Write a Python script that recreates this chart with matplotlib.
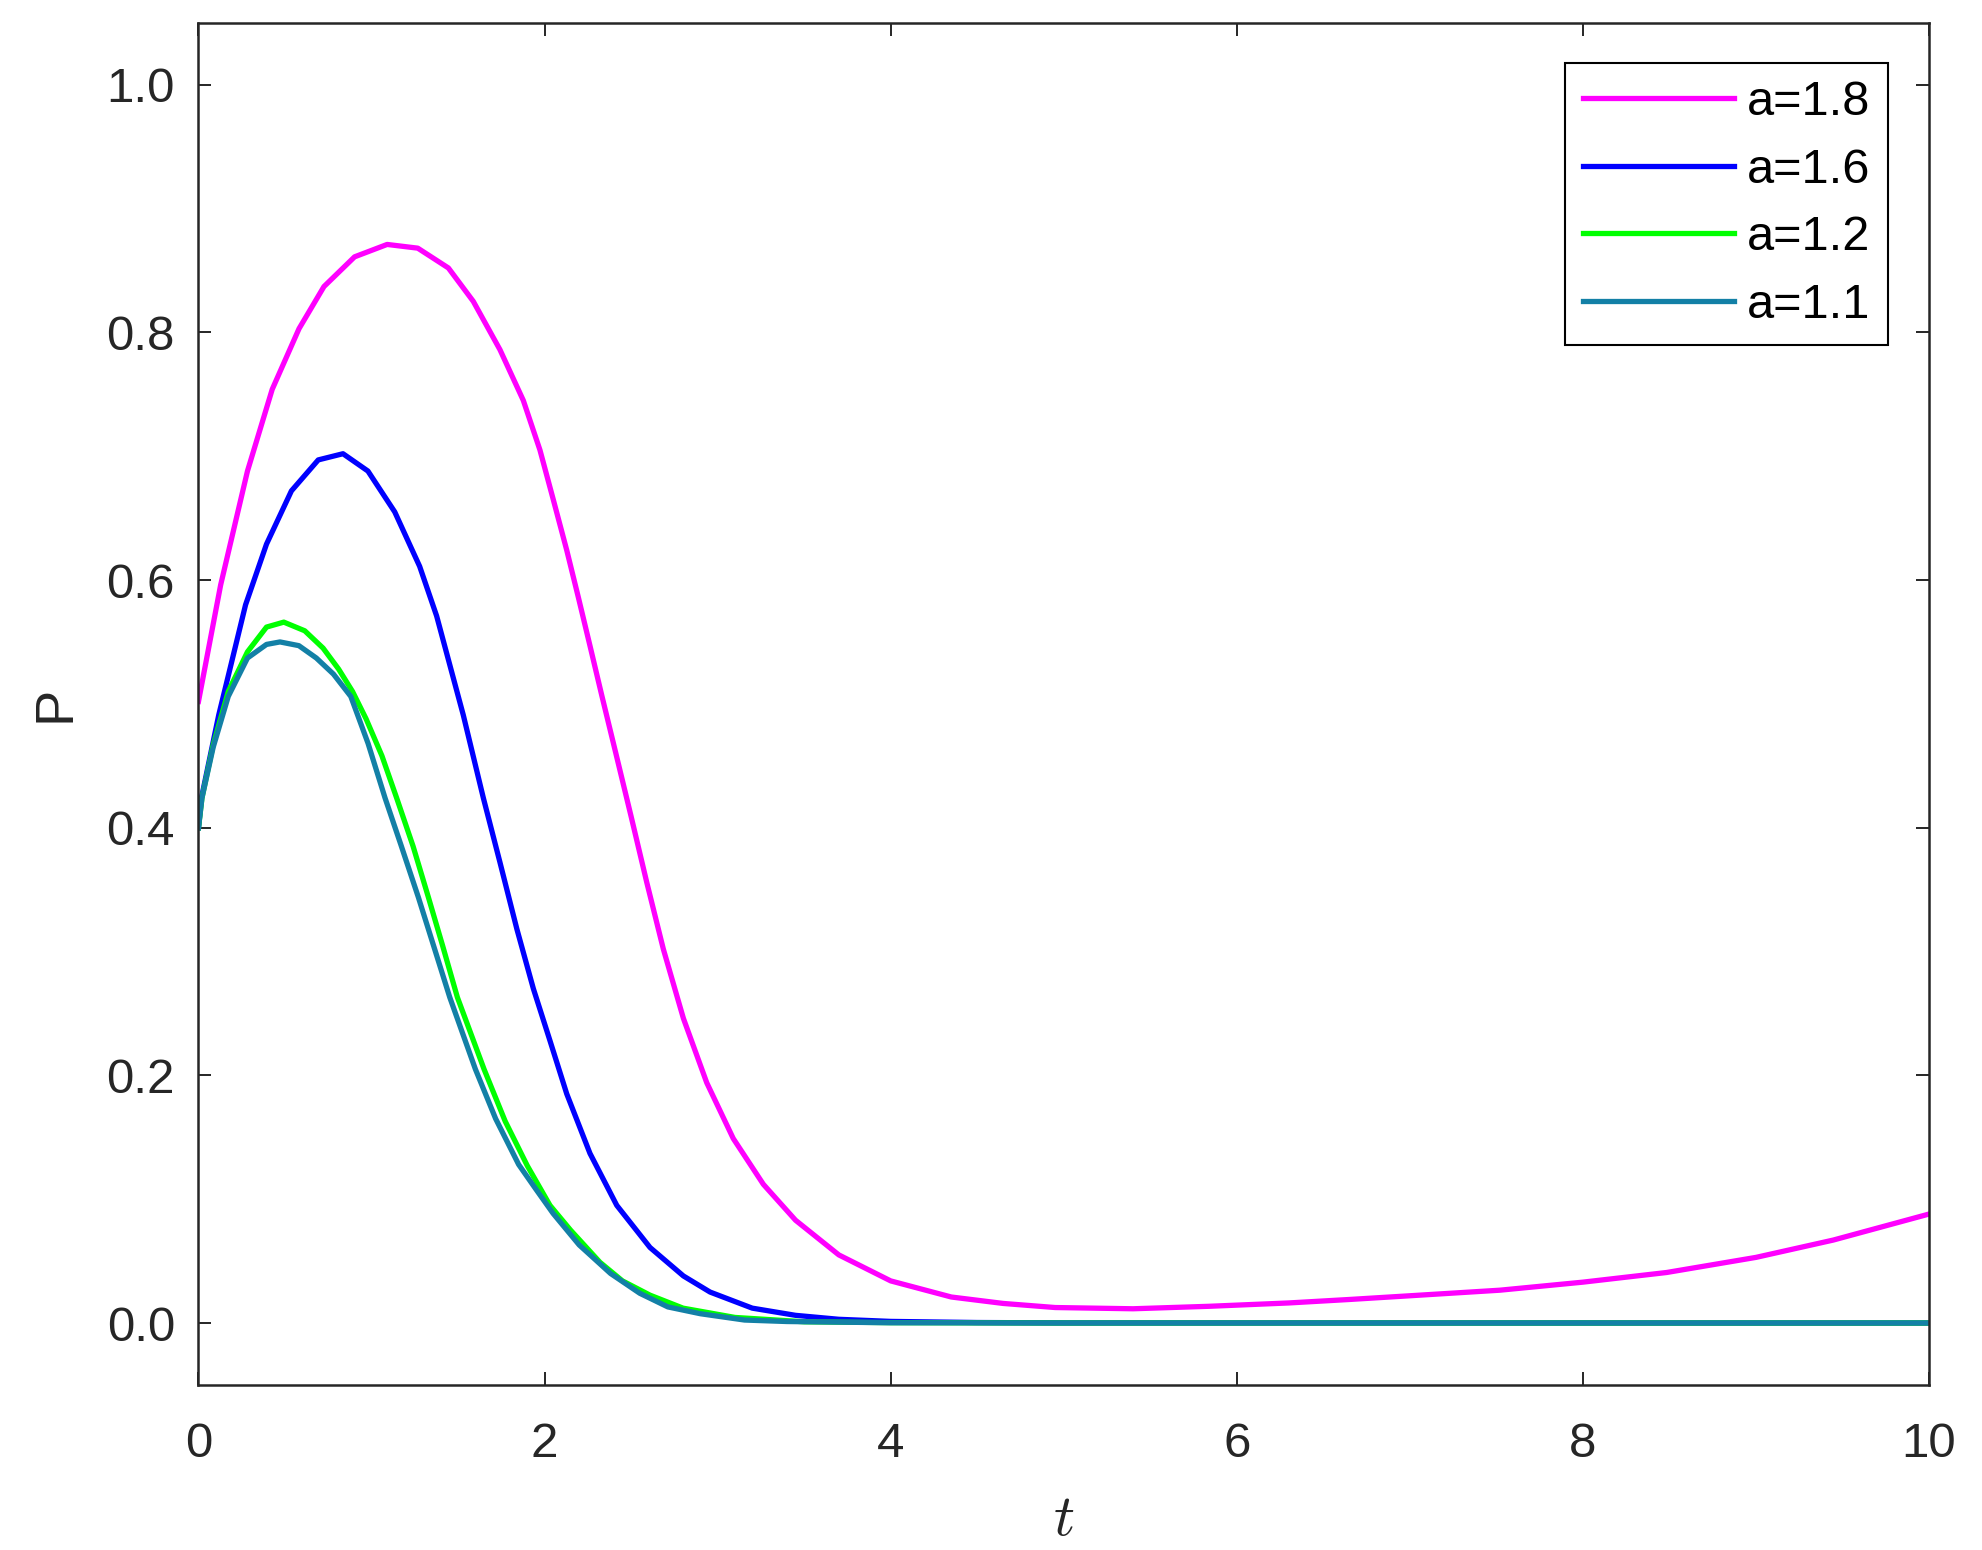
import matplotlib
matplotlib.use('Agg')
import matplotlib.pyplot as plt

# values
t_18 = [0, 0.128, 0.283, 0.426, 0.581, 0.725, 0.902, 1.09, 1.267, 1.444, 1.588,
        1.742, 1.877, 1.973, 2.05, 2.128, 2.195, 2.262, 2.33, 2.41, 2.50, 2.59,
        2.686, 2.802, 2.937, 3.09, 3.264, 3.45, 3.7, 4.0, 4.35, 4.65, 4.95,
        5.40, 5.84, 6.3, 6.65, 7.0, 7.52, 8.0, 8.484, 9.0, 9.447, 10]
p_18 = [0.502, 0.596, 0.688, 0.754, 0.803, 0.837, 0.861, 0.871, 0.868, 0.852, 0.825,
        0.786, 0.745, 0.705, 0.665, 0.624, 0.586, 0.547, 0.507, 0.461, 0.409, 0.356,
        0.302, 0.246, 0.194, 0.149, 0.112, 0.083, 0.055, 0.034, 0.021, 0.0158, 0.0125,
        0.0115, 0.0135, 0.0162, 0.0190, 0.0220, 0.0265, 0.0330, 0.0408, 0.053, 0.067, 0.088]

t_16 = [0, 0.017, 0.117, 0.272, 0.393, 0.537, 0.692, 0.835, 0.979, 1.134, 1.278,
        1.376, 1.453, 1.53, 1.646, 1.742, 1.84, 1.935, 2.031, 2.128, 2.262, 2.417,
        2.609, 2.802, 2.956, 3.2, 3.45, 3.7, 4.0, 4.5, 5.0, 10]
p_16 = [0.40, 0.424, 0.491, 0.580, 0.629, 0.672, 0.697, 0.702, 0.688, 0.655, 0.611,
        0.571, 0.531, 0.491, 0.424, 0.372, 0.318, 0.270, 0.228, 0.185, 0.137, 0.095,
        0.061, 0.038, 0.025, 0.012, 0.0062, 0.003, 0.0013, 0.0004, 0.0001, 0.0]

t_12 = [0, 0.02, 0.085, 0.172, 0.283, 0.393, 0.493, 0.614, 0.72, 0.81, 0.89, 0.968,
        1.06, 1.145, 1.24, 1.328, 1.41, 1.496, 1.65, 1.772, 1.9, 2.031, 2.15, 2.32,
        2.45, 2.609, 2.8, 3.1, 3.5, 4.0, 5.0, 10]
p_12 = [0.40, 0.424, 0.467, 0.51, 0.542, 0.562, 0.566, 0.559, 0.545, 0.528, 0.510, 0.488,
        0.458, 0.424, 0.385, 0.344, 0.305, 0.263, 0.205, 0.163, 0.127, 0.095, 0.075, 0.049,
        0.034, 0.0225, 0.012, 0.0045, 0.001, 0.0003, 0.0, 0.0]

t_11 = [0, 0.02, 0.085, 0.172, 0.283, 0.393, 0.471, 0.58, 0.681, 0.78, 0.88, 0.98,
        1.078, 1.17, 1.27, 1.36, 1.452, 1.6, 1.717, 1.85, 1.95, 2.049, 2.2, 2.381,
        2.55, 2.712, 2.9, 3.155, 3.4, 4.0, 5.0, 10]
p_11 = [0.40, 0.424, 0.465, 0.506, 0.537, 0.548, 0.550, 0.547, 0.537, 0.524, 0.506, 0.468,
        0.424, 0.386, 0.344, 0.304, 0.263, 0.205, 0.165, 0.128, 0.108, 0.0885, 0.063, 0.040,
        0.024, 0.013, 0.0075, 0.0024, 0.0012, 0.0002, 0.0, 0.0]

series = [
    (t_18, p_18, 'a=1.8', '#ff00ff'),
    (t_16, p_16, 'a=1.6', '#0000ff'),
    (t_12, p_12, 'a=1.2', '#00ff00'),
    (t_11, p_11, 'a=1.1', '#1380a6'),
]

xticks = [0, 2, 4, 6, 8, 10]
yticks = [0.0, 0.2, 0.4, 0.6, 0.8, 1.0]

plt.rcParams['font.family'] = ['Liberation Sans', 'DejaVu Sans']
plt.rcParams['mathtext.fontset'] = 'cm'

dark = '#262626'

fig = plt.figure(figsize=(19.83, 15.5), dpi=100)
ax = fig.add_axes([0.1001, 0.1065, 0.8727, 0.8788])

for t, p, lab, col in series:
    ax.plot(t, p, color=col, lw=3.8, label=lab)

ax.set_xlim(0, 10)
ax.set_ylim(-0.05, 1.05)
ax.set_xticks(xticks)
ax.set_xticklabels([str(v) for v in xticks])
ax.set_yticks(yticks)
ax.set_yticklabels(['%.1f' % v for v in yticks])

ax.tick_params(direction='in', length=9.4, width=1.4, colors=dark,
               labelsize=35.5, top=True, right=True)
ax.tick_params(axis='x', pad=27)
ax.tick_params(axis='y', pad=17)
for s in ax.spines.values():
    s.set_linewidth(1.8)
    s.set_color(dark)

ax.set_xlabel('$t$', fontsize=42, color=dark)
ax.xaxis.set_label_coords(0.5, -0.079)
ax.set_ylabel('P', fontsize=39, color=dark)
ax.yaxis.set_label_coords(-0.068, 0.5)

leg = ax.legend(loc='upper right', bbox_to_anchor=(0.9763, 0.9705),
                fontsize=35, frameon=True, fancybox=False, framealpha=1,
                edgecolor='#000000', handlelength=3.1, handletextpad=0.28,
                labelspacing=0.46, borderpad=0.36, borderaxespad=0)
leg.get_frame().set_linewidth(1.5)
for txt in leg.get_texts():
    txt.set_color('#000000')

fig.savefig('out.png', dpi=100, facecolor='white')
